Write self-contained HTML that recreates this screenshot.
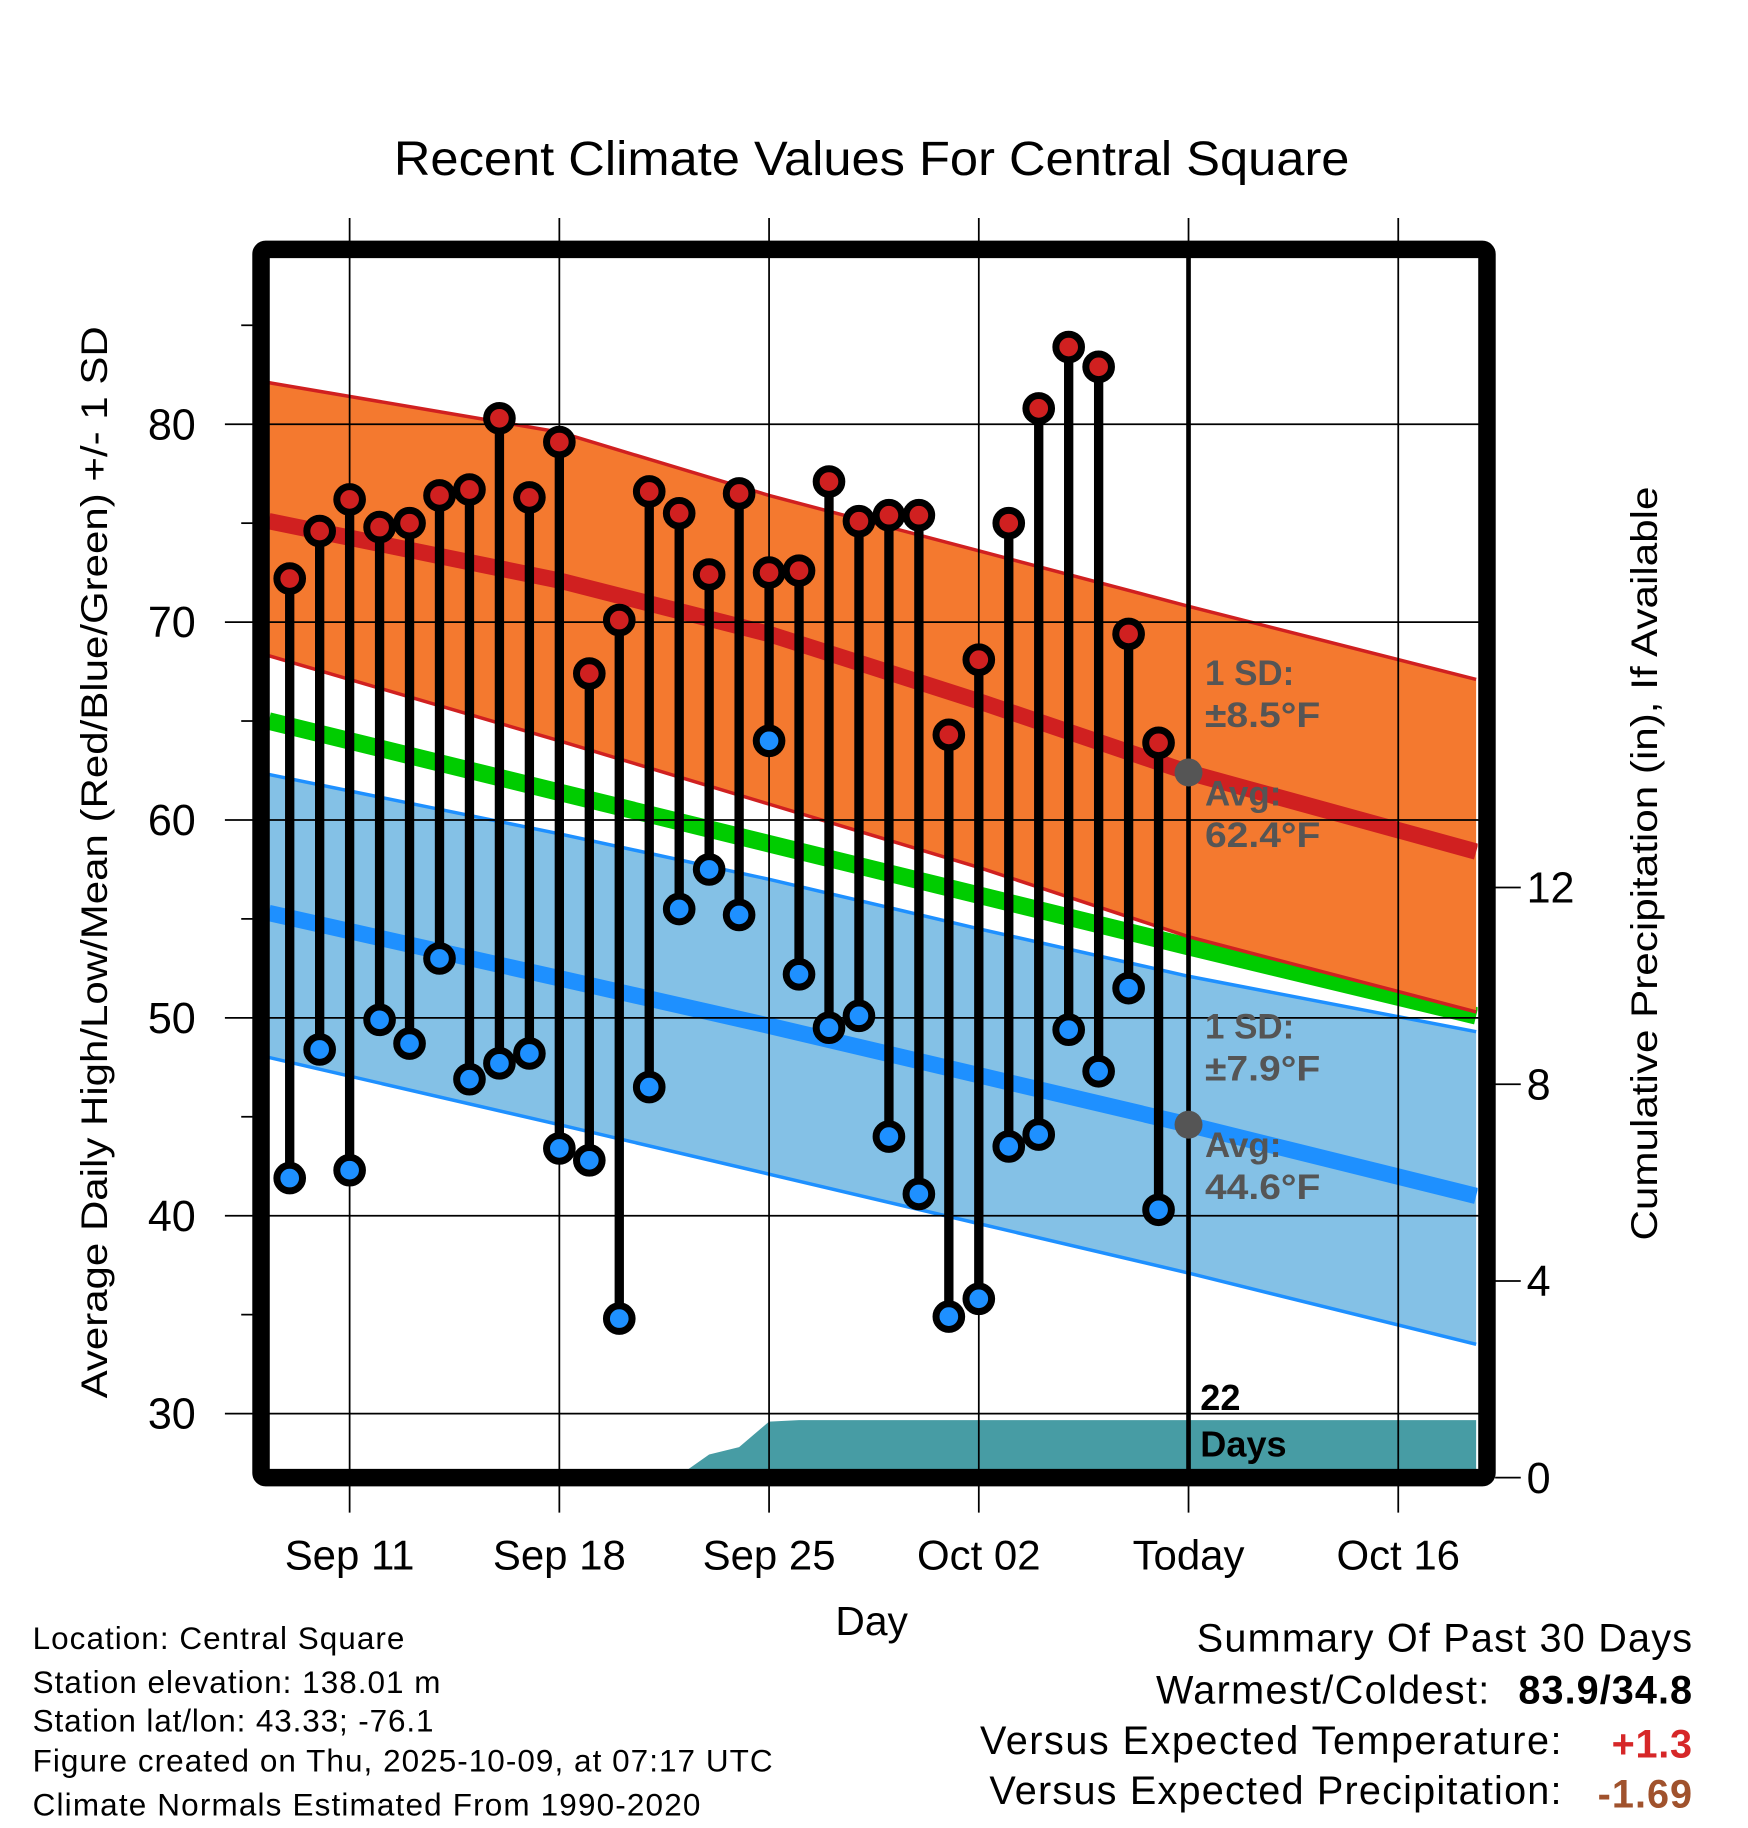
<!DOCTYPE html>
<html><head><meta charset="utf-8"><style>
html,body{margin:0;padding:0;background:#fff}
svg{display:block;font-family:"Liberation Sans",Arial,sans-serif}
</style></head><body>
<svg id="chart" width="1748" height="1828" viewBox="0 0 1500 1568.6" xmlns="http://www.w3.org/2000/svg">
<defs><clipPath id="plotclip"><rect x="231" y="221" width="1037" height="1040"/></clipPath></defs>
<rect x="0" y="0" width="1500" height="1570" fill="#fff"/>
<text x="338" y="150" font-size="41" textLength="820" lengthAdjust="spacingAndGlyphs">Recent Climate Values For Central Square</text>
<g id="bands" clip-path="url(#plotclip)"></g>
<g id="grid"></g>
<g id="marks" clip-path="url(#plotclip)"></g>
<rect x="224" y="214" width="1052" height="1054" rx="4" fill="none" stroke="#000" stroke-width="15"/>
<g id="axes"></g>
<g font-size="30" font-weight="bold" fill="#555">
<text x="1034" y="588">1 SD:</text><text x="1034" y="624" textLength="99" lengthAdjust="spacingAndGlyphs">±8.5°F</text>
<text x="1034" y="691">Avg:</text><text x="1034" y="727" textLength="99" lengthAdjust="spacingAndGlyphs">62.4°F</text>
<text x="1034" y="891">1 SD:</text><text x="1034" y="927" textLength="99" lengthAdjust="spacingAndGlyphs">±7.9°F</text>
<text x="1034" y="993">Avg:</text><text x="1034" y="1029" textLength="99" lengthAdjust="spacingAndGlyphs">44.6°F</text>
</g>
<g font-size="31" font-weight="bold" fill="#000">
<text x="1030" y="1210">22</text><text x="1030" y="1250">Days</text></g>
<text x="748" y="1403" font-size="35" text-anchor="middle">Day</text>
<text transform="translate(92,740) rotate(-90)" font-size="32" text-anchor="middle" textLength="920" lengthAdjust="spacingAndGlyphs">Average Daily High/Low/Mean (Red/Blue/Green) +/- 1 SD</text>
<text transform="translate(1422,741) rotate(-90)" font-size="32" text-anchor="middle" textLength="647" lengthAdjust="spacingAndGlyphs">Cumulative Precipitation (in), If Available</text>
<g font-size="27" lengthAdjust="spacingAndGlyphs">
<text x="28" y="1415" textLength="319">Location: Central Square</text>
<text x="28" y="1453" textLength="350">Station elevation: 138.01 m</text>
<text x="28" y="1486" textLength="344">Station lat/lon: 43.33; -76.1</text>
<text x="28" y="1520" textLength="635">Figure created on Thu, 2025-10-09, at 07:17 UTC</text>
<text x="28" y="1558" textLength="573">Climate Normals Estimated From 1990-2020</text>
</g>
<g font-size="34">
<text x="1027" y="1417" textLength="425">Summary Of Past 30 Days</text>
<text x="992" y="1462" textLength="286">Warmest/Coldest:</text>
<text x="1303" y="1462" font-weight="bold" textLength="149">83.9/34.8</text>
<text x="841" y="1505" textLength="499">Versus Expected Temperature:</text>
<text x="1383" y="1508" font-weight="bold" fill="#d62728" textLength="69">+1.3</text>
<text x="849" y="1548" textLength="491">Versus Expected Precipitation:</text>
<text x="1371" y="1551" font-weight="bold" fill="#a0522d" textLength="81">-1.69</text>
</g>
</svg>
<script>
// Days are offsets from Sep 9 (0 = Sep 9)
const highs=[72.2,74.6,76.2,74.8,75.0,76.4,76.7,80.3,76.3,79.1,67.4,70.1,76.6,75.5,72.4,76.5,72.5,72.6,77.1,75.1,75.4,75.4,64.3,68.1,75.0,80.8,83.9,82.9,69.4,63.9];
const lows=[41.9,48.4,42.3,49.9,48.7,53.0,46.9,47.7,48.2,43.4,42.8,34.8,46.5,55.5,57.5,55.2,64.0,52.2,49.5,50.1,44.0,41.1,34.9,35.8,43.5,44.1,49.4,47.3,51.5,40.3];
const normDays=[-0.7,9,16,23,30,39.6];
const normHighMean=[75.1,72.1,69.4,66.0,62.4,58.4];
const normHighUpper=[82.1,79.6,76.4,73.6,70.8,67.1];
const normHighLower=[68.3,64.0,60.8,57.6,54.1,50.3];
const normMean=[65.0,61.4,58.8,56.2,53.6,50.1];
const normLowUpper=[62.3,59.3,57.0,54.5,52.1,49.3];
const normLowMean=[55.3,52.0,49.6,47.1,44.6,41.0];
const normLowLower=[48.0,44.6,42.1,39.6,37.1,33.5];
const precipDays=[-0.7,12.9,14,15,16,17,39.6];
const precipVals=[0,0,0.47,0.62,1.14,1.17,1.17];
const xTickDays=[2,9,16,23,30,37];
const xTickLabels=["Sep 11","Sep 18","Sep 25","Oct 02","Today","Oct 16"];
const yTicks=[30,40,50,60,70,80];
const yMinor=[35,45,55,65,75,85];
const y2Ticks=[0,4,8,12];
const todayDay=30;

const NS="http://www.w3.org/2000/svg";
const X=d=>248.6+d*25.71;
const Y=v=>1213-(v-30)*16.98;
const Y2=p=>1268-p*42.2;
function mk(tag,attrs,parent){const e=document.createElementNS(NS,tag);for(const k in attrs)e.setAttribute(k,attrs[k]);parent.appendChild(e);return e;}
const bands=document.getElementById('bands'),grid=document.getElementById('grid'),marks=document.getElementById('marks'),axes=document.getElementById('axes');
function pts(days,vals,f){return days.map((d,i)=>X(d)+','+f(vals[i])).join(' ');}
function band(up,lo,fill,edge,name){
  const p=pts(normDays,up,Y)+' '+pts(normDays.slice().reverse(),lo.slice().reverse(),Y);
  const el=mk('polygon',{points:p,fill:fill},bands);
  
  
  const a=mk('polyline',{points:pts(normDays,up,Y),fill:'none',stroke:edge,'stroke-width':3},bands);
  
  
  const b=mk('polyline',{points:pts(normDays,lo,Y),fill:'none',stroke:edge,'stroke-width':3},bands);
  
  
}
band(normLowUpper,normLowLower,'#84c1e6','#1e90ff','low-sd-band');
const ml=mk('polyline',{points:pts(normDays,normLowMean,Y),fill:'none',stroke:'#1e90ff','stroke-width':14},bands);


const gm=mk('polyline',{points:pts(normDays,normMean,Y),fill:'none',stroke:'#00cc00','stroke-width':15},bands);


band(normHighUpper,normHighLower,'#f4792f','#d02020','high-sd-band');
const mh=mk('polyline',{points:pts(normDays,normHighMean,Y),fill:'none',stroke:'#d02020','stroke-width':14},bands);


const pr=mk('polygon',{points:pts(precipDays,precipVals,Y2)+' '+X(39.6)+','+Y2(0)+' '+X(-0.7)+','+Y2(0),fill:'#479ca4'},bands);



xTickDays.forEach((d,i)=>{
  const l=mk('line',{x1:X(d),x2:X(d),y1:187,y2:1298,stroke:'#000','stroke-width':1.5},grid);
  
  
  const t=mk('text',{x:X(d),y:1347,'font-size':36,'text-anchor':'middle'},axes);
  t.textContent=xTickLabels[i];
  
  
});
yTicks.forEach(v=>{
  const l=mk('line',{x1:193,x2:1283,y1:Y(v),y2:Y(v),stroke:'#000','stroke-width':1.5},grid);
  
  
  const t=mk('text',{x:168,y:Y(v)+13,'font-size':37,'text-anchor':'end'},axes);
  t.textContent=v;
  
  
});
yMinor.forEach(v=>{
  const l=mk('line',{x1:207,x2:217,y1:Y(v),y2:Y(v),stroke:'#000','stroke-width':1.5},grid);
  
  
});
y2Ticks.forEach(p=>{
  const l=mk('line',{x1:1283,x2:1305,y1:Y2(p),y2:Y2(p),stroke:'#000','stroke-width':1.5},grid);
  
  
  const t=mk('text',{x:1310,y:Y2(p)+13,'font-size':37},axes);
  t.textContent=p;
  
  
});

const tl=mk('line',{x1:X(todayDay),x2:X(todayDay),y1:214,y2:1268,stroke:'#000','stroke-width':4},marks);


const d1=mk('circle',{cx:X(todayDay),cy:Y(62.4),r:12,fill:'#555'},marks);


const d2=mk('circle',{cx:X(todayDay),cy:Y(44.6),r:12,fill:'#555'},marks);



highs.forEach((h,i)=>{
  const s=mk('line',{x1:X(i),x2:X(i),y1:Y(h),y2:Y(lows[i]),stroke:'#000','stroke-width':8},marks);
  
  
  const c1=mk('circle',{cx:X(i),cy:Y(h),r:11,fill:'#d02020',stroke:'#000','stroke-width':6},marks);
  
  
  const c2=mk('circle',{cx:X(i),cy:Y(lows[i]),r:11,fill:'#1e90ff',stroke:'#000','stroke-width':6},marks);
  
  
});
</script>
</body></html>
